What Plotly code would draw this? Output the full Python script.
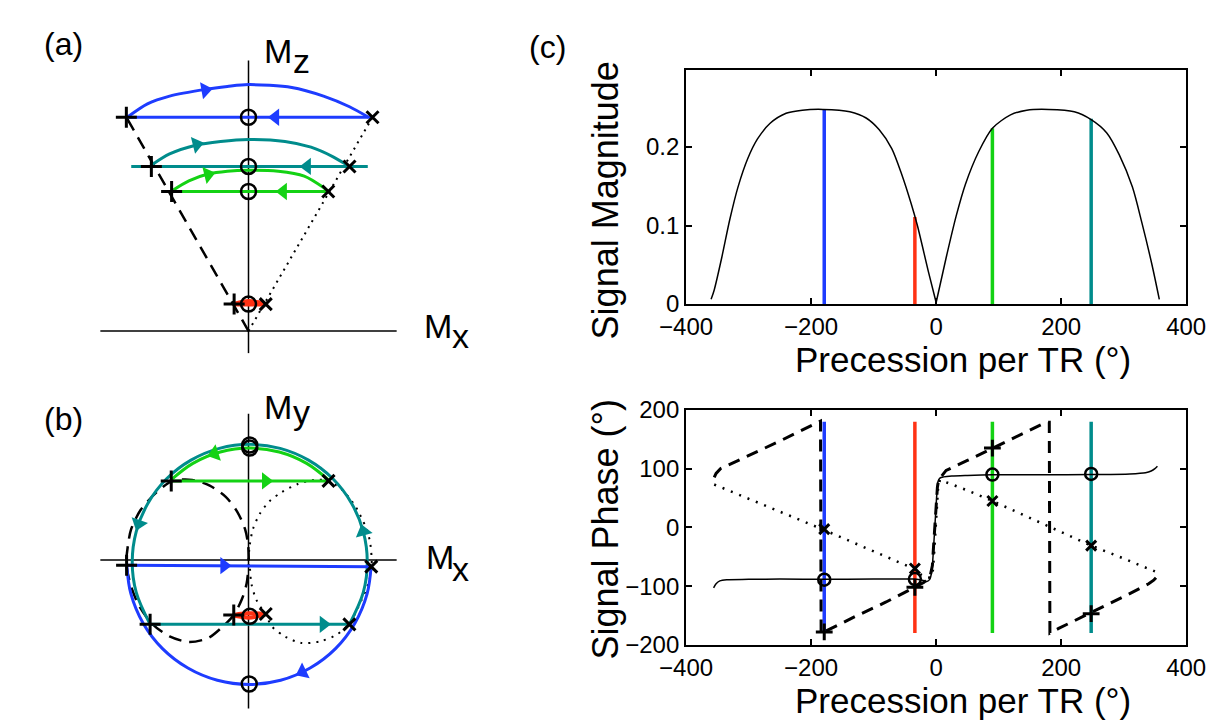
import plotly.graph_objects as go

W, H = 1228, 723
FONT = "Liberation Sans, Arial, Helvetica, sans-serif"
BLUE, RED, GREEN, TEAL = "#1e3cff", "#ff3214", "#14d214", "#008c8c"

# ---------------- panel (c) data ----------------
prec_mag = [-360, -355, -343, -330, -317, -301, -286, -266, -240, -214, -181, -138, -112, -91,
            -71, -55, -40, -30, -12, 0, 16, 32, 47, 68, 90, 119, 145, 180, 221, 248, 273, 293,
            314, 329, 345, 357]
sig_mag = [0.006, 0.018, 0.059, 0.108, 0.149, 0.186, 0.210, 0.230, 0.243, 0.247, 0.248, 0.245,
           0.237, 0.222, 0.198, 0.165, 0.128, 0.100, 0.040, 0.002, 0.059, 0.112, 0.153, 0.194,
           0.224, 0.241, 0.247, 0.248, 0.245, 0.235, 0.218, 0.190, 0.149, 0.104, 0.051, 0.006]
null_index = 19  # sample at the zero-precession null

prec_phase = [-356, -352, -346, -335, -300, -250, -180, -100, -50, -34, -22, -15, -10, -7, -5,
              -3, -1, 1, 3, 6, 12, 25, 50, 90, 170, 250, 310, 335, 344, 350, 354]
sig_phase = [-103, -96, -91, -89, -88.5, -88, -88.5, -88, -88, -88, -90, -92, -88, -75, -50,
             -15, 20, 55, 78, 84, 86, 87.5, 88.5, 89.5, 89.5, 90, 91, 93, 96, 100, 104]

prec_plus = [-355, -352, -345, -300, -250, -185, -184, -179, -130, -80, -35, -20, -10, -6, -4,
             -2, 0, 2, 4, 16, 50, 90, 130, 176, 181, 182, 196, 247, 300, 340, 348, 353]
phase_plus = [85, 92, 100, 122, 147, 181, -181, -178, -152, -127, -102, -94, -85, -65, -30,
              10, 40, 68, 81, 97, 114, 135, 155, 179, 179, -180, -172, -146, -118, -96, -90, -84]

prec_minus = [-355, -300, -250, -180, -130, -80, -34, -25, -15, -8, -5, -3, -1, 1, 3, 6, 50,
              90, 150, 200, 248, 300, 350]
phase_minus = [73, 49, 27, -4, -27, -50, -71, -80, -86, -85, -72, -40, 0, 35, 65, 81, 63, 45,
               16, -9, -31, -53, -75]

sel_prec = [-179, -34, 90, 248]
sel_mag = [0.248, 0.111, 0.224, 0.236]
sel_phase_o = [-89, -88, 90, 91]
sel_phase_plus = [-178, -102, 135, -147]
sel_phase_x = [-3, -70, 45, -31]
sel_colors = [BLUE, RED, GREEN, TEAL]
phase_span = [-180, 180]

x_ticks = [-400, -200, 0, 200, 400]
mag_ticks = [0, 0.1, 0.2]
mag_ticktext = ["0", "0.1", "0.2"]
phase_ticks = [-200, -100, 0, 100, 200]

# ---------------- panel (a) data (Mx, Mz) ----------------
a_axis_v_mx, a_axis_v_mz = [0, 0], [2.162, -0.18]
a_axis_h_mx, a_axis_h_mz = [-1.185, 1.185], [0, 0]
a_dash_mx, a_dash_mz = [0, -0.977], [0, 1.708]
a_dot_mx, a_dot_mz = [0, 0.992], [0, 1.708]

a_blue_line_mx, a_blue_line_mz = [0.992, -0.977], [1.708, 1.708]
a_blue_arc_mx = [-0.970, -0.808, -0.631, -0.346, -0.169, 0, 0.346, 0.6, 0.808, 0.960]
a_blue_arc_mz = [1.708, 1.815, 1.877, 1.931, 1.954, 1.969, 1.946, 1.877, 1.792, 1.708]
a_teal_line_mx, a_teal_line_mz = [0.954, -0.938], [1.315, 1.315]
a_teal_arc_mx = [-0.769, -0.631, -0.423, -0.223, 0, 0.292, 0.5, 0.677, 0.800]
a_teal_arc_mz = [1.331, 1.415, 1.485, 1.515, 1.531, 1.515, 1.469, 1.392, 1.320]
a_green_line_mx, a_green_line_mz = [0.638, -0.615], [1.115, 1.115]
a_green_arc_mx = [-0.608, -0.477, -0.323, -0.169, 0, 0.238, 0.446, 0.6, 0.638]
a_green_arc_mz = [1.123, 1.2, 1.254, 1.277, 1.285, 1.277, 1.238, 1.146, 1.115]
a_red_mx = [0.138, 0.0, -0.115, 0.0, 0.138]
a_red_mz = [0.215, 0.24, 0.215, 0.212, 0.215]

a_plus_mx = [-0.977, -0.777, -0.615, -0.115]
a_plus_mz = [1.708, 1.315, 1.115, 0.215]
a_x_mx = [0.992, 0.808, 0.638, 0.138]
a_x_mz = [1.708, 1.315, 1.115, 0.215]
a_o_mx = [0, 0, 0, 0]
a_o_mz = [1.708, 1.315, 1.115, 0.215]
a_arrow_mx = [-0.346, 0.215, -0.415, 0.469, -0.323, 0.277]
a_arrow_mz = [1.925, 1.708, 1.490, 1.315, 1.250, 1.115]
a_arrow_ang = [80, 270, 76, 270, 76, 270]
a_arrow_col = [BLUE, BLUE, TEAL, TEAL, GREEN, GREEN]

# ---------------- panel (b) data (Mx, My) ----------------
b_axis_v_mx, b_axis_v_my = [0, 0], [1.169, -1.185]
b_axis_h_mx, b_axis_h_my = [-1.185, 1.185], [0, 0]

b_dash_mx = [0.002, -0.003, -0.028, -0.092, -0.182, -0.31, -0.451, -0.605, -0.733, -0.862,
             -0.938, -0.964, -0.977, -0.938, -0.874, -0.772, -0.631, -0.477, -0.323, -0.208,
             -0.118, -0.054, -0.015, 0.002]
b_dash_my = [-0.003, 0.121, 0.249, 0.39, 0.505, 0.595, 0.641, 0.633, 0.544, 0.402, 0.249,
             0.121, -0.033, -0.213, -0.367, -0.508, -0.61, -0.654, -0.623, -0.533, -0.438,
             -0.315, -0.187, -0.033]
b_dot_mx = [0.0, 0.01, 0.036, 0.087, 0.164, 0.267, 0.395, 0.523, 0.638, 0.754, 0.856, 0.933,
            0.972, 0.985, 0.959, 0.882, 0.805, 0.703, 0.574, 0.421, 0.292, 0.19, 0.138, 0.062,
            0.023, 0.01]
b_dot_my = [0.0, 0.121, 0.249, 0.364, 0.467, 0.544, 0.608, 0.641, 0.633, 0.556, 0.428, 0.274,
            0.146, -0.054, -0.187, -0.367, -0.508, -0.597, -0.649, -0.662, -0.61, -0.533,
            -0.438, -0.315, -0.187, -0.033]

b_teal_arc_mx = [0.807, 0.918, 0.950, 0.918, 0.824, 0.675, 0.480, 0.253, 0.010, -0.233,
                 -0.460, -0.655, -0.804, -0.898, -0.930, -0.898, -0.787]
b_teal_arc_my = [-0.513, -0.258, -0.015, 0.228, 0.455, 0.650, 0.799, 0.893, 0.925, 0.893,
                 0.799, 0.650, 0.455, 0.228, -0.015, -0.258, -0.513]
b_teal_line_mx, b_teal_line_my = [-0.787, 0.807], [-0.513, -0.513]
b_blue_arc_mx = [0.981, 0.949, 0.851, 0.696, 0.493, 0.257, 0.004, -0.249, -0.485, -0.688,
                 -0.843, -0.941, -0.973]
b_blue_arc_my = [-0.049, -0.268, -0.504, -0.707, -0.862, -0.960, -0.993, -0.960, -0.862,
                 -0.707, -0.504, -0.268, -0.049]
b_blue_line_mx, b_blue_line_my = [-0.975, 0.982], [-0.040, -0.052]
b_green_arc_mx = [0.642, 0.465, 0.246, 0.010, -0.226, -0.445, -0.622]
b_green_arc_my = [0.639, 0.773, 0.864, 0.895, 0.864, 0.773, 0.639]
b_green_line_mx, b_green_line_my = [-0.618, 0.640], [0.633, 0.633]
b_red_mx = [-0.118, 0.0, 0.138, 0.0, -0.118]
b_red_my = [-0.438, -0.425, -0.431, -0.46, -0.438]

b_plus_mx = [-0.975, -0.787, -0.618, -0.118]
b_plus_my = [-0.040, -0.513, 0.633, -0.438]
b_x_mx = [0.982, 0.807, 0.640, 0.138]
b_x_my = [-0.052, -0.513, 0.633, -0.431]
b_o_mx = [0.006, 0.010, 0.010, 0.010]
b_o_my = [-0.990, 0.920, 0.895, -0.449]
b_arrow_mx = [-0.195, 0.432, 0.600, -0.879, 0.918, 0.138, -0.271]
b_arrow_my = [-0.044, -0.894, -0.513, 0.291, 0.228, 0.633, 0.850]
b_arrow_ang = [90, 244, 90, 199, 345, 90, 252]
b_arrow_col = [BLUE, BLUE, TEAL, TEAL, TEAL, GREEN, GREEN]

# ---------------- figure ----------------
fig = go.Figure()


def line(x, y, ax, color="black", width=2.5, dash="solid", shape="linear", smooth=1.0):
    fig.add_trace(go.Scatter(x=x, y=y, xaxis=ax[0], yaxis=ax[1], mode="lines",
                             line=dict(color=color, width=width, dash=dash, shape=shape,
                                       smoothing=smooth if shape == "spline" else None),
                             hoverinfo="skip", showlegend=False))


def marks(x, y, ax, symbol, size, color="black", lw=2.5, angle=0):
    fig.add_trace(go.Scatter(x=x, y=y, xaxis=ax[0], yaxis=ax[1], mode="markers",
                             marker=dict(symbol=symbol, size=size, color=color, angle=angle,
                                         line=dict(color=color, width=lw)),
                             cliponaxis=False, hoverinfo="skip", showlegend=False))


A = ("x", "y")
B = ("x2", "y2")
CT = ("x3", "y3")
CB = ("x4", "y4")

# panel (a)
line(a_axis_v_mx, a_axis_v_mz, A, width=1.5)
line(a_axis_h_mx, a_axis_h_mz, A, width=1.5)
line(a_dash_mx, a_dash_mz, A, width=2.5, dash="13px,8px")
line(a_dot_mx, a_dot_mz, A, width=2, dash="2px,5px")
line(a_blue_line_mx, a_blue_line_mz, A, BLUE, 3)
line(a_blue_arc_mx, a_blue_arc_mz, A, BLUE, 3, shape="spline", smooth=0.8)
line(a_teal_line_mx, a_teal_line_mz, A, TEAL, 3)
line(a_teal_arc_mx, a_teal_arc_mz, A, TEAL, 3, shape="spline", smooth=0.8)
line(a_green_line_mx, a_green_line_mz, A, GREEN, 3)
line(a_green_arc_mx, a_green_arc_mz, A, GREEN, 3, shape="spline", smooth=0.8)
line(a_red_mx, a_red_mz, A, RED, 4, shape="spline")
for i in range(len(a_arrow_mx)):
    marks([a_arrow_mx[i]], [a_arrow_mz[i]], A, "triangle-up", 15, a_arrow_col[i], 0,
          a_arrow_ang[i])
marks(a_plus_mx, a_plus_mz, A, "cross-thin", 15, lw=3)
marks(a_x_mx, a_x_mz, A, "x-thin", 12, lw=3)
marks(a_o_mx, a_o_mz, A, "circle-open", 15, lw=2.5)

# panel (b)
line(b_axis_v_mx, b_axis_v_my, B, width=1.5)
line(b_axis_h_mx, b_axis_h_my, B, width=1.5)
line(b_dash_mx, b_dash_my, B, width=2.5, dash="13px,8px", shape="spline", smooth=0.8)
line(b_dot_mx, b_dot_my, B, width=2, dash="2px,6px", shape="spline", smooth=0.8)
line(b_teal_arc_mx, b_teal_arc_my, B, TEAL, 3, shape="spline")
line(b_teal_line_mx, b_teal_line_my, B, TEAL, 3)
line(b_blue_arc_mx, b_blue_arc_my, B, BLUE, 3, shape="spline")
line(b_blue_line_mx, b_blue_line_my, B, BLUE, 3)
line(b_green_arc_mx, b_green_arc_my, B, GREEN, 3, shape="spline")
line(b_green_line_mx, b_green_line_my, B, GREEN, 3)
line(b_red_mx, b_red_my, B, RED, 4, shape="spline")
for i in range(len(b_arrow_mx)):
    marks([b_arrow_mx[i]], [b_arrow_my[i]], B, "triangle-up", 15, b_arrow_col[i], 0,
          b_arrow_ang[i])
marks(b_plus_mx, b_plus_my, B, "cross-thin", 15, lw=3)
marks(b_x_mx, b_x_my, B, "x-thin", 12, lw=3)
marks(b_o_mx, b_o_my, B, "circle-open", 15, lw=2.5)

# panel (c) top: colored sample lines, then the magnitude profile (two lobes meeting at the null)
for p, m, c in zip(sel_prec, sel_mag, sel_colors):
    line([p, p], [0, m], CT, c, 3.5)
line(prec_mag[:null_index + 1], sig_mag[:null_index + 1], CT, width=1.5, shape="spline", smooth=0.8)
line(prec_mag[null_index:], sig_mag[null_index:], CT, width=1.5, shape="spline", smooth=0.8)

# panel (c) bottom
for p, c in zip(sel_prec, sel_colors):
    line([p, p], phase_span, CB, c, 3.5)
line(prec_phase, sig_phase, CB, width=1.5, shape="spline", smooth=0.8)
line(prec_plus, phase_plus, CB, width=3, dash="12px,8px")
line(prec_minus, phase_minus, CB, width=2.5, dash="2px,7px")
marks(sel_prec, sel_phase_o, CB, "circle-open", 12, lw=2.5)
marks(sel_prec, sel_phase_plus, CB, "cross-thin", 12, lw=3)
marks(sel_prec, sel_phase_x, CB, "x-thin", 10, lw=3)

# ---------------- layout ----------------
S = 130.0  # pixels per magnetization unit in panels (a) and (b)


def px(x):
    return x / W


def py(y):
    return 1 - y / H


hidden = dict(visible=False, showgrid=False, zeroline=False, fixedrange=True)
axc = dict(showline=True, linecolor="black", linewidth=2, mirror="ticks", ticks="inside",
           ticklen=6, tickwidth=1.5, tickcolor="black", showgrid=False, zeroline=False,
           tickfont=dict(family=FONT, size=24, color="black"), fixedrange=True)

fig.update_layout(
    width=W, height=H, margin=dict(l=0, r=0, t=0, b=0, pad=0),
    paper_bgcolor="white", plot_bgcolor="white", showlegend=False,
    xaxis=dict(domain=[0, px(460)], range=[-222 / S, 238 / S], anchor="y", **hidden),
    yaxis=dict(domain=[py(344), 1], range=[(321 - 344) / S, 321 / S], anchor="x", **hidden),
    xaxis2=dict(domain=[0, px(460)], range=[-222 / S, 238 / S], anchor="y2", **hidden),
    yaxis2=dict(domain=[0, py(344)], range=[(559 - 723) / S, (559 - 344) / S], anchor="x2",
                **hidden),
    xaxis3=dict(domain=[px(677), px(1197)], range=[-400, 400], tickvals=x_ticks, anchor="y3",
                **axc),
    yaxis3=dict(domain=[py(293), py(50)], range=[0, 0.298], tickvals=mag_ticks,
                ticktext=mag_ticktext, anchor="x3", **axc),
    xaxis4=dict(domain=[px(677), px(1197)], range=[-400, 400], tickvals=x_ticks, anchor="y4",
                **axc),
    yaxis4=dict(domain=[py(647), py(403)], range=[-200, 200], tickvals=phase_ticks,
                anchor="x4", **axc),
)


def text(s, x, y, size, xanchor="center", angle=0):
    fig.add_annotation(text=s, x=px(x), y=py(y), xref="paper", yref="paper", showarrow=False,
                       xanchor=xanchor, yanchor="middle", textangle=angle,
                       font=dict(family=FONT, size=size, color="black"))


text("(a)", 30, 23, 32)
text("(b)", 30, 412, 32)
text("(c)", 533, 26, 32)
text("M", 236, 30, 34, "left")
text("z", 266, 41, 34, "left")
text("M", 402, 316, 34, "left")
text("x", 431, 326, 34, "left")
text("M", 236, 400, 34, "left")
text("y", 266, 405, 34, "left")
text("M", 404, 556, 34, "left")
text("x", 432, 568, 34, "left")
text("Signal Magnitude", 593, 185, 36, angle=-90)
text("Signal Phase (°)", 593, 527, 36, angle=-90)
text("Precession per TR (°)", 788, 351, 35, "left")
text("Precession per TR (°)", 788, 705, 35, "left")

fig.write_html("out.html")
